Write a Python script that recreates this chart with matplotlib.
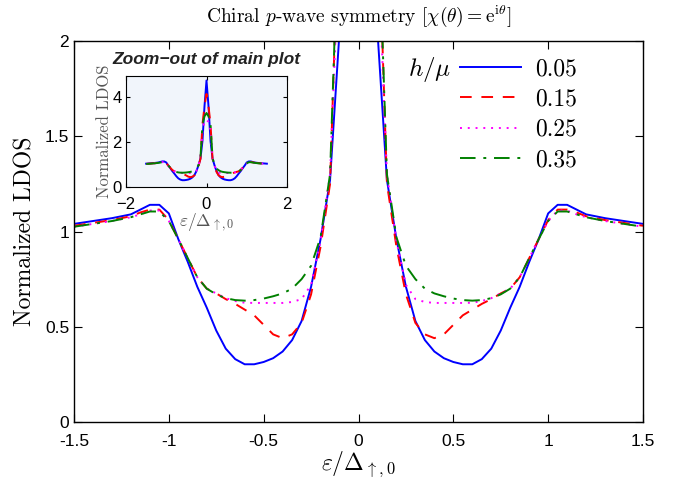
import matplotlib
matplotlib.use("Agg")
import matplotlib.pyplot as plt
from matplotlib.ticker import FormatStrFormatter

plt.rcParams['mathtext.fontset'] = 'cm'
plt.rcParams['font.family'] = ['Liberation Sans', 'DejaVu Sans']
plt.rcParams['axes.unicode_minus'] = True

# energy grid eps/Delta
eps = [-1.5, -1.4, -1.3, -1.2, -1.15, -1.1, -1.05, -1.0, -0.95, -0.9, -0.85, -0.8,
       -0.75, -0.7, -0.65, -0.6, -0.55, -0.5, -0.45, -0.4, -0.35, -0.3, -0.25, -0.2,
       -0.15, -0.1, -0.05, 0.0, 0.05, 0.1, 0.15, 0.2, 0.25, 0.3, 0.35, 0.4, 0.45,
       0.5, 0.55, 0.6, 0.65, 0.7, 0.75, 0.8, 0.85, 0.9, 0.95, 1.0, 1.05, 1.1, 1.15,
       1.2, 1.3, 1.4, 1.5]

ldos_005 = [1.04, 1.055, 1.07, 1.09, 1.115, 1.14, 1.14, 1.095, 0.96, 0.84, 0.71, 0.60,
            0.48, 0.385, 0.33, 0.303, 0.303, 0.315, 0.335, 0.37, 0.43, 0.53, 0.71, 0.96,
            1.27, 2.05, 3.6, 4.75, 3.6, 2.05, 1.27, 0.96, 0.71, 0.53, 0.43, 0.37, 0.335,
            0.315, 0.303, 0.303, 0.33, 0.385, 0.48, 0.60, 0.71, 0.84, 0.96, 1.095, 1.14,
            1.14, 1.115, 1.09, 1.07, 1.055, 1.04]
ldos_015 = [1.03, 1.045, 1.06, 1.08, 1.10, 1.115, 1.115, 1.06, 0.96, 0.86, 0.76, 0.70,
            0.675, 0.645, 0.62, 0.59, 0.56, 0.51, 0.46, 0.44, 0.46, 0.52, 0.67, 0.92,
            1.25, 2.8, 3.6, 4.15, 3.6, 2.8, 1.25, 0.92, 0.67, 0.52, 0.46, 0.44, 0.46,
            0.51, 0.56, 0.59, 0.62, 0.645, 0.675, 0.70, 0.76, 0.86, 0.96, 1.06, 1.115,
            1.115, 1.10, 1.08, 1.06, 1.045, 1.03]
ldos_025 = [1.025, 1.04, 1.055, 1.075, 1.09, 1.11, 1.11, 1.055, 0.96, 0.86, 0.76, 0.70,
            0.675, 0.65, 0.635, 0.626, 0.625, 0.625, 0.625, 0.625, 0.63, 0.645, 0.72, 0.95,
            1.3, 2.55, 2.9, 3.0, 2.9, 2.55, 1.3, 0.95, 0.72, 0.645, 0.63, 0.625, 0.625,
            0.625, 0.625, 0.626, 0.635, 0.65, 0.675, 0.70, 0.76, 0.86, 0.96, 1.055, 1.11,
            1.11, 1.09, 1.075, 1.055, 1.04, 1.025]
ldos_035 = [1.025, 1.04, 1.055, 1.075, 1.09, 1.105, 1.105, 1.055, 0.96, 0.86, 0.76, 0.70,
            0.67, 0.65, 0.64, 0.637, 0.64, 0.648, 0.66, 0.675, 0.70, 0.75, 0.82, 0.97,
            1.3, 2.8, 3.15, 3.3, 3.15, 2.8, 1.3, 0.97, 0.82, 0.75, 0.70, 0.675, 0.66,
            0.648, 0.64, 0.637, 0.64, 0.65, 0.67, 0.70, 0.76, 0.86, 0.96, 1.055, 1.105,
            1.105, 1.09, 1.075, 1.055, 1.04, 1.025]

labels = ['0.05', '0.15', '0.25', '0.35']
series = [ldos_005, ldos_015, ldos_025, ldos_035]
colors = ['#0000ff', '#ff0000', '#ff00ff', '#008000']
styles = ['-', (0, (6, 5)), (0, (1, 3)), (0, (8, 4, 1.5, 4))]

fig = plt.figure(figsize=(6.82, 4.78), dpi=100)
ax = fig.add_axes([74/682, 1-422/478, (643-74)/682, (422-41)/478])

lines = []
for y, c, ls, lab in zip(series, colors, styles, labels):
    l, = ax.plot(eps, y, color=c, linestyle=ls, linewidth=1.4, label=lab)
    lines.append(l)

ax.set_xlim(-1.5, 1.5)
ax.set_ylim(0, 2)
ax.set_xticks([-1.5, -1, -0.5, 0, 0.5, 1, 1.5])
ax.set_yticks([0, 0.5, 1, 1.5, 2])
ax.xaxis.set_major_formatter(FormatStrFormatter('%g'))
ax.yaxis.set_major_formatter(FormatStrFormatter('%g'))
ax.tick_params(direction='in', top=True, right=True, length=6, labelsize=12.5)
ax.tick_params(axis='x', pad=9)
for s in ax.spines.values():
    s.set_linewidth(1.0)

ax.set_xlabel(r'$\varepsilon/\Delta_{\uparrow,0}$', fontsize=17, labelpad=0)
ax.set_ylabel('Normalized LDOS', family='cmr10', fontsize=17, labelpad=6)
ax.set_title(r'Chiral $p$-wave symmetry [$\chi(\theta) = \mathrm{e}^{\mathrm{i}\theta}$]',
             family='cmr10', fontsize=14, pad=14)

leg = ax.legend(handles=lines, loc='upper left', bbox_to_anchor=(460/682, 1-58/478),
                bbox_transform=fig.transFigure, frameon=False,
                handlelength=2.6, handletextpad=0.6, labelspacing=0.35, borderpad=0,
                borderaxespad=0, prop={'family': 'cmr10', 'size': 17})
fig.text(451/682, 1-70/478, r'$h/\mu$', fontsize=18, ha='right', va='center')

# inset
axi = fig.add_axes([126/682, 1-187/478, 161/682, 111/478], facecolor='#f1f5fb')
for y, c, ls in zip(series, colors, styles):
    axi.plot(eps, y, color=c, linestyle=ls, linewidth=1.4)
axi.set_xlim(-2, 2)
axi.set_ylim(0, 4.95)
axi.set_xticks([-2, 0, 2])
axi.set_yticks([0, 2, 4])
axi.tick_params(direction='in', top=True, right=True, length=3, labelsize=12, pad=3)
axi.tick_params(axis='x', pad=7)
axi.set_ylabel('Normalized LDOS', family='cmr10', fontsize=12, color='#555555', labelpad=0)
axi.set_xlabel(r'$\varepsilon/\Delta_{\uparrow,0}$', fontsize=12.5, color='#555555', labelpad=0)
axi.set_title('Zoom\u2212out of main plot', fontsize=12.5, fontweight='bold', style='italic',
              color='#222222', pad=9)

fig.savefig('out.png', dpi=100)
